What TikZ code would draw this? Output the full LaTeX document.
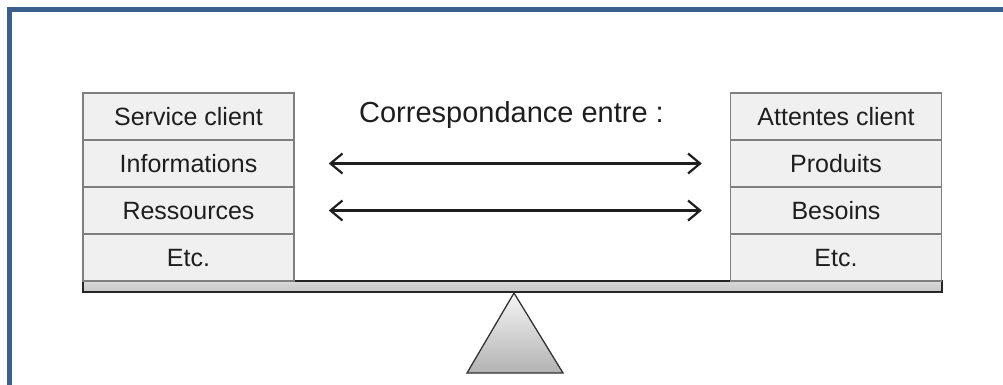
\documentclass[tikz,border=0pt]{standalone}
\usepackage{fontspec}
\setmainfont{Liberation Sans}
\usetikzlibrary{arrows.meta}
\definecolor{frameblue}{HTML}{3D5F8E}
\definecolor{cellfill}{HTML}{F0F0F0}
\definecolor{cellline}{HTML}{7F7F7F}
\definecolor{inktext}{HTML}{1E1E1E}
\tikzset{
  cell/.style={draw=cellline, line width=1.5pt, fill=cellfill, minimum width=211pt,
    minimum height=47pt, inner sep=0pt, text height=18pt, text depth=0pt,
    text=inktext, font=\fontsize{25}{30}\selectfont},
  dblarrow/.style={draw=inktext, line width=2.2pt,
    {Straight Barb[length=12pt,width=20pt,line width=2.2pt]}-{Straight Barb[length=12pt,width=20pt,line width=2.2pt]}}
}
\begin{document}
\begin{tikzpicture}[x=1pt,y=-1pt]
\useasboundingbox (0,0) rectangle (1003,385);
\fill[white] (0,0) rectangle (1003,385);
\draw[frameblue, line width=5pt] (9.5,385) -- (9.5,9.5) -- (1003,9.5);
% beam
\draw[black!85, line width=1.4pt, top color=gray!30, middle color=gray!5, bottom color=gray!45] (83,281) rectangle (942,292);
% fulcrum
\draw[black!80, line width=1.3pt, top color=gray!8, bottom color=gray!60] (514,293) -- (563,373) -- (467,373) -- cycle;
% left column
\node[cell] (sc) at (188.5,116.5) {Service client};
\node[cell] (info) at (188.5,163.5) {Informations};
\node[cell] (res) at (188.5,210.5) {Ressources};
\node[cell] (etcl) at (188.5,257.5) {Etc.};
% right column
\node[cell] (att) at (836,116.5) {Attentes client};
\node[cell] (prod) at (836,163.5) {Produits};
\node[cell] (bes) at (836,210.5) {Besoins};
\node[cell] (etcr) at (836,257.5) {Etc.};
% title
\node[anchor=base, inner sep=0pt, text=inktext, font=\fontsize{29}{34}\selectfont] (title) at (511.5,122) {Correspondance entre :};
% arrows
\draw[dblarrow] ([xshift=34pt]info.east) -- ([xshift=-28pt]prod.west);
\draw[dblarrow] ([xshift=34pt]res.east) -- ([xshift=-28pt]bes.west);
\end{tikzpicture}
\end{document}
